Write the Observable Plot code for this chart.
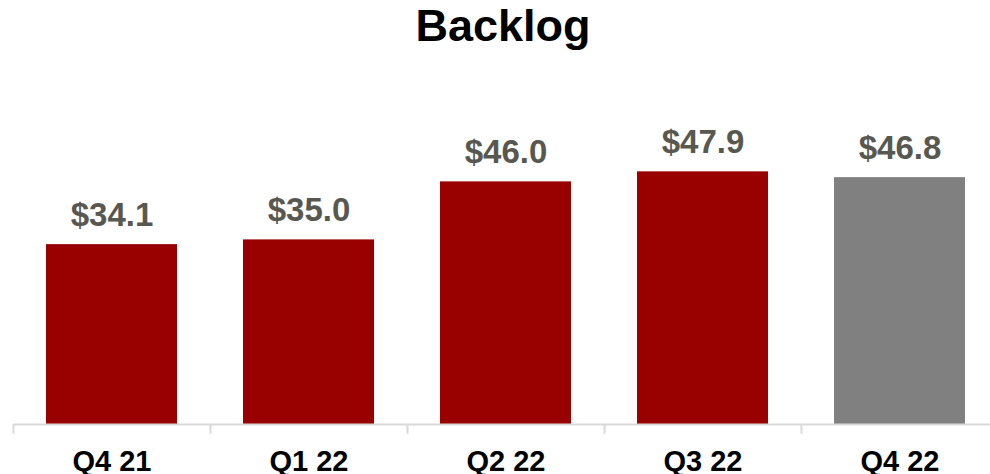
<!DOCTYPE html>
<html>
<head>
<meta charset="utf-8">
<script src="https://cdn.jsdelivr.net/npm/d3@7"></script>
<script src="https://cdn.jsdelivr.net/npm/@observablehq/plot@0.6"></script>
<style>
  html, body { margin: 0; padding: 0; background: #fff; overflow: hidden; }
  #title { height: 59px; line-height: 59px; text-align: center; padding-left: 16px;
    font: bold 45px "Liberation Sans", Arial, sans-serif; color: #000; }
</style>
</head>
<body>
<div id="title">Backlog</div>
<div id="chart"></div>
<script>
const categories = ["Q4 21", "Q1 22", "Q2 22", "Q3 22", "Q4 22"];
const values = [34.1, 35.0, 46.0, 47.9, 46.8];
const labels = ["$34.1", "$35.0", "$46.0", "$47.9", "$46.8"];
const colors = ["#990000", "#990000", "#990000", "#990000", "#808080"];

const data = categories.map((c, i) => ({cat: c, value: values[i], label: labels[i], color: colors[i]}));

const chart = Plot.plot({
  width: 990,
  height: 415,
  marginTop: 0,
  marginBottom: 50,
  marginLeft: 13,
  marginRight: 0,
  style: {fontFamily: '"Liberation Sans", Arial, sans-serif', background: "#fff"},
  x: {domain: categories, range: [13, 998], paddingInner: 0.335, paddingOuter: 0.1675, align: 0.5, axis: null},
  y: {domain: [0, 69.2], axis: null},
  marks: [
    Plot.barY(data, {x: "cat", y: "value", fill: "color"}),
    Plot.ruleY([0], {stroke: "#d9d9d9", strokeWidth: 2}),
    Plot.ruleX(categories, {x: d => d, y1: 0, y2: -1.85, dx: -98.5, stroke: "#d9d9d9", strokeWidth: 2}),
    Plot.text(data, {x: "cat", y: "value", text: "label", lineAnchor: "bottom", dy: -18.5,
      fill: "#585850", fontSize: 33, fontWeight: "bold"}),
    Plot.text(data, {x: "cat", y: 0, text: "cat", lineAnchor: "bottom", dy: 46,
      fill: "#000", fontSize: 29, fontWeight: "bold"})
  ]
});
document.getElementById("chart").appendChild(chart);
</script>
</body>
</html>
